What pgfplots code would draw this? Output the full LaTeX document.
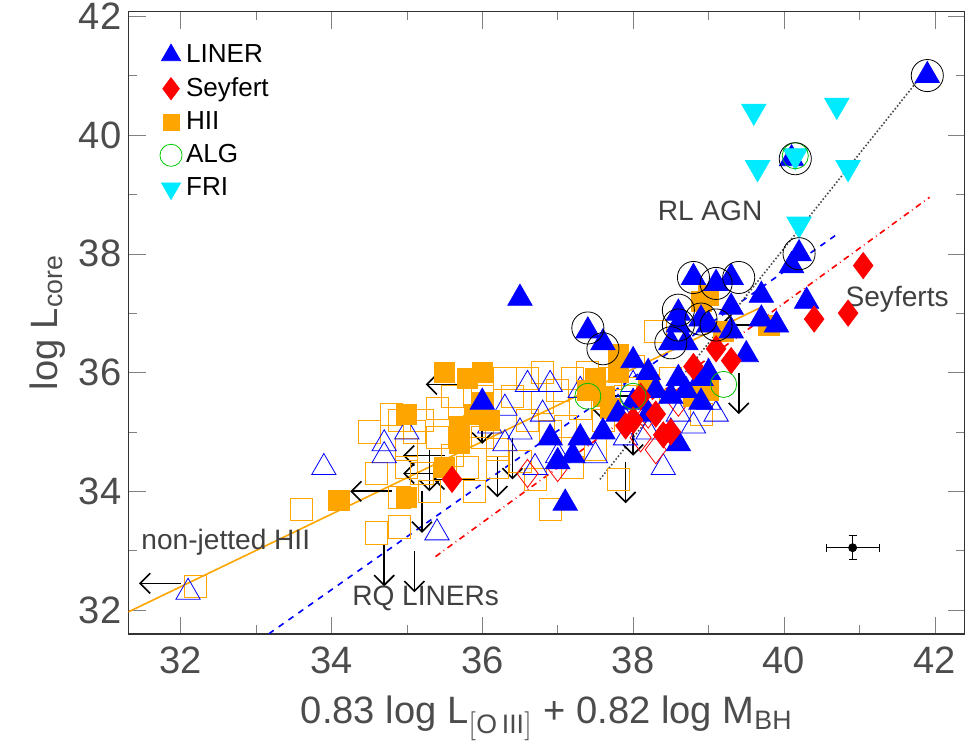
\documentclass[border=0pt]{standalone}
\usepackage{pgfplots}
\pgfplotsset{compat=1.18}
\usetikzlibrary{arrows.meta}
\usepackage{fontspec}
\setmainfont{Liberation Sans}
\definecolor{myorange}{RGB}{255,165,0}
\definecolor{mycyan}{RGB}{0,235,255}
\begin{document}
\begin{tikzpicture}
\useasboundingbox (-2.25,-2.05) rectangle (14.65,11.1);
\begin{axis}[at={(0,0)}, anchor=origin, scale only axis, width=14.65cm, height=10.9cm,
 xmin=31.31, xmax=42.4, ymin=31.6, ymax=42.08,
 xtick={32,34,...,42}, ytick={32,34,...,42}, minor x tick num=1, minor y tick num=1,
 tick align=inside, major tick length=0.3cm, minor tick length=0.15cm,
 /pgf/number format/assume math mode=true,
 tick label style={font=\fontsize{19}{22}\selectfont, text=black!70},
 xticklabel style={yshift=-3pt},
 label style={font=\fontsize{19}{22}\selectfont, text=black!70},
 xlabel style={yshift=-4pt},
 xlabel={0.83 log L$_{\mathrm{[O\,III]}}$ + 0.82 log M$_{\mathrm{BH}}$},
 ylabel={log L$_{\mathrm{core}}$},
 axis line style={black!80, line width=0.9pt},
 legend style={at={(0.03,0.96)}, anchor=north west, draw=none, fill=none, font=\fontsize{13}{15}\selectfont, row sep=2pt},
 legend cell align=left, clip=true]
\addlegendimage{only marks, mark=triangle*, mark size=5.5pt, blue}
\addlegendentry{LINER}
\addlegendimage{only marks, mark=diamond*, mark size=5.5pt, red}
\addlegendentry{Seyfert}
\addlegendimage{only marks, mark=square*, mark size=4pt, myorange}
\addlegendentry{HII}
\addlegendimage{only marks, mark=o, mark size=5.5pt, green!80!black}
\addlegendentry{ALG}
\addlegendimage{only marks, mark=triangle*, mark options={rotate=180}, mark size=5.5pt, mycyan}
\addlegendentry{FRI}
\addplot[myorange, thick, forget plot] coordinates {(31.31,31.97) (39.7,37.1)};
\addplot[blue, dashed, thick, forget plot] coordinates {(33.17,31.6) (40.74,38.36)};
\addplot[red, dash dot, thick, forget plot] coordinates {(35.38,32.9) (41.93,38.95)};
\addplot[black!70, densely dotted, thick, forget plot] coordinates {(37.56,34.2) (41.87,41.07)};
\addplot[only marks, mark=square, mark size=5.5pt, myorange, forget plot] coordinates {
(32.2,32.4)(33.6,33.7)(34.6,33.3)(34.8,35.3)(34.9,35.2)(35.0,34.7)(35.2,34.3)(35.3,34.0)(35.4,34.9)(35.2,35.2)(35.6,34.6)(35.8,34.4)(36.0,34.9)(36.2,34.7)(36.4,35.6)(36.6,35.2)(36.8,35.5)(36.9,35.0)(37.0,35.7)(37.2,35.9)(37.3,35.4)(37.1,35.1)(36.5,34.5)(36.7,34.2)(36.9,33.7)(37.2,34.4)(37.5,34.7)(37.6,35.2)(37.9,35.6)(38.0,36.1)(38.3,36.7)(38.2,35.6)(38.5,35.9)(37.7,35.9)(36.0,35.6)(35.6,35.6)(35.4,35.4)(35.1,35.0)(34.5,35.0)(34.6,34.3)(34.9,33.9)(35.0,34.4)(36.3,35.9)(36.6,35.9)(37.8,34.2)(34.9,33.4)(35.9,34.0)(36.2,34.4)(36.8,36.0)(35.9,35.1)(37.4,36.0)(38.9,35.3)};
\addplot[only marks, mark=triangle, mark size=7pt, blue, forget plot] coordinates {
(32.1,32.3)(33.9,34.4)(34.7,34.8)(34.7,34.6)(35.0,35.0)(35.4,33.3)(36.3,35.4)(36.6,35.8)(36.8,35.3)(36.5,35.0)(36.7,34.4)(37.0,34.6)(37.5,34.6)(37.8,35.4)(37.9,34.9)(38.4,34.4)(38.6,35.3)(38.8,35.1)(39.0,35.5)(39.1,35.3)(38.2,35.0)(37.3,35.7)(38.0,35.8)(36.1,35.1)(36.9,35.8)(36.3,34.8)(38.5,35.0)};
\addplot[only marks, mark=diamond, mark size=7pt, red, forget plot] coordinates {
(38.1,34.9)(38.3,34.7)(37.0,34.4)(38.2,35.3)(36.6,34.3)(38.6,35.5)};
\addplot[only marks, mark=square*, mark size=5pt, myorange, forget plot] coordinates {
(35.5,36.0)(35.0,35.3)(34.1,33.85)(35.0,33.9)(35.7,35.1)(35.9,35.3)(36.0,35.5)(36.1,35.2)(35.8,35.9)(36.0,36.0)(35.7,34.8)(35.5,34.4)(37.4,35.7)(37.8,36.0)(38.2,35.8)(37.7,35.4)(37.6,35.6)(38.9,37.2)(39.0,37.3)(39.2,36.7)(38.8,35.6)(39.8,36.8)(37.8,36.3)(37.5,35.9)(39.0,35.7)};
\addplot[only marks, mark=triangle*, mark size=7pt, blue, forget plot] coordinates {
(41.9,41.0)(40.1,39.6)(40.2,38.0)(40.1,37.8)(40.3,37.2)(39.7,37.3)(39.3,37.6)(39.1,37.5)(38.8,37.6)(39.3,37.1)(38.6,37.0)(38.6,36.8)(38.9,36.9)(39.0,36.8)(38.7,36.5)(38.5,36.5)(39.7,36.9)(39.9,36.8)(39.3,36.7)(37.4,36.7)(37.6,36.5)(36.5,37.25)(38.0,36.2)(38.2,36.0)(38.6,35.9)(39.0,36.0)(39.5,36.3)(38.9,35.9)(38.3,35.7)(38.5,35.6)(38.7,35.7)(38.0,35.5)(37.8,35.3)(37.3,34.9)(37.2,34.6)(37.0,34.5)(37.1,33.8)(38.6,34.8)(37.6,35.0)(36.9,34.9)(36.0,35.5)(38.9,35.5)(38.2,35.3)};
\addplot[only marks, mark=diamond*, mark size=6.5pt, red, forget plot] coordinates {
(41.05,37.8)(40.85,37.0)(40.4,36.9)(39.1,36.4)(39.3,36.2)(38.8,36.1)(38.3,35.3)(38.5,35.0)(38.0,35.2)(37.9,35.1)(38.4,34.95)(35.6,34.2)(38.1,35.6)};
\addplot[only marks, mark=triangle*, mark options={rotate=180}, mark size=7pt, mycyan, forget plot] coordinates {
(39.6,40.4)(40.7,40.5)(39.65,39.45)(40.85,39.45)(40.2,38.5)(40.15,39.65)};
\addplot[only marks, mark=o, mark size=6.5pt, green!75!black, forget plot] coordinates {
(40.15,39.65)(38.0,35.6)(39.2,35.8)(37.4,35.6)};
\addplot[only marks, mark=o, mark size=8pt, black, forget plot] coordinates {
(41.9,41.0)(40.15,39.6)(40.2,38.0)(38.8,37.6)(39.1,37.5)(39.4,37.6)(38.6,37.05)(38.6,36.8)(38.9,36.9)(39.1,36.8)(38.5,36.5)(37.4,36.75)(37.6,36.4)};
\addplot[black, thick, -{Straight Barb[length=5pt,width=10pt]}, forget plot, quiver={u=-0.55, v=0}] coordinates {
(35.8,35.8)(34.8,34.0)(35.5,34.6)(35.5,34.3)(35.9,34.2)(32.0,32.45)(38.0,35.6)(39.7,36.8)};
\addplot[black, thick, -{Straight Barb[length=5pt,width=10pt]}, forget plot, quiver={u=0, v=-0.7}] coordinates {
(35.3,34.7)(36.0,35.5)(35.2,34.0)(34.7,33.1)(35.1,33.0)(36.2,34.6)(36.4,34.9)(37.6,35.9)(37.9,34.5)(39.4,36.0)(38.0,35.3)};
\addplot[black, mark=*, mark size=2pt, forget plot, error bars/.cd, x dir=both, x explicit, y dir=both, y explicit] coordinates {(40.91,33.05) +- (0.35,0.2)};
\node[font=\fontsize{14}{16}\selectfont, text=black!75] at (axis cs:39.02,38.73) {RL AGN};
\node[font=\fontsize{14}{16}\selectfont, text=black!75] at (axis cs:41.5,37.23) {Seyferts};
\node[font=\fontsize{14}{16}\selectfont, text=black!75] at (axis cs:32.6,33.15) {non-jetted HII};
\node[font=\fontsize{14}{16}\selectfont, text=black!75] at (axis cs:35.25,32.19) {RQ LINERs};
\end{axis}
\end{tikzpicture}
\end{document}
